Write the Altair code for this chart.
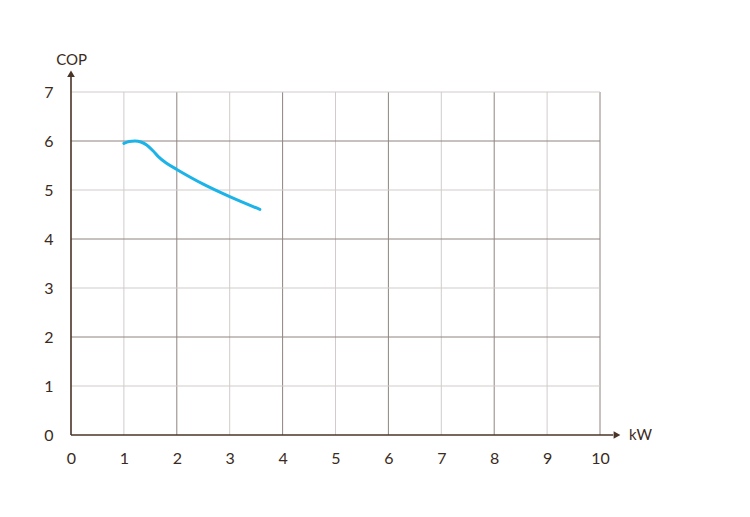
import altair as alt
import pandas as pd

# curve data
kw = [1.0, 1.1, 1.21, 1.32, 1.43, 1.55, 1.65, 1.8, 2.0, 2.5, 3.0, 3.57]
cop = [5.95, 5.99, 6.0, 5.98, 5.92, 5.8, 5.68, 5.55, 5.42, 5.12, 4.865, 4.605]

x_ticks = list(range(0, 11))
y_ticks = list(range(0, 8))

AXIS = "#4a3428"
TEXT = "#3a2a22"
LIGHT = "#d2cbcb"
DARK = "#8e8480"
FONT = "Lato"

curve = pd.DataFrame({"kw": kw, "cop": cop})
xg = pd.DataFrame({"x": x_ticks[1:], "y0": 0, "y1": 7})
xg["even"] = xg["x"] % 2 == 0
yg = pd.DataFrame({"y": y_ticks[1:], "x0": 0, "x1": 10})
yg["even"] = yg["y"] % 2 == 0

xs = alt.Scale(domain=[0, 10], nice=False)
ys = alt.Scale(domain=[0, 7], nice=False)

base_x_axis = alt.Axis(values=x_ticks, labelFont=FONT, labelFontSize=16, labelColor=TEXT,
                       labelPadding=15, labelFlush=False, domain=False, ticks=False,
                       grid=False, title=None)
base_y_axis = alt.Axis(values=y_ticks, labelFont=FONT, labelFontSize=16, labelColor=TEXT,
                       labelPadding=18, labelFlush=False, domain=False, ticks=False,
                       grid=False, title=None)

vgrid = alt.Chart(xg).mark_rule(strokeWidth=1).encode(
    x=alt.X("x:Q", scale=xs, axis=base_x_axis),
    y=alt.Y("y0:Q", scale=ys, axis=base_y_axis),
    y2="y1:Q",
    color=alt.Color("even:N", scale=alt.Scale(domain=[True, False], range=[DARK, LIGHT]), legend=None),
)
hgrid = alt.Chart(yg).mark_rule(strokeWidth=1).encode(
    y=alt.Y("y:Q", scale=ys),
    x=alt.X("x0:Q", scale=xs),
    x2="x1:Q",
    color=alt.Color("even:N", scale=alt.Scale(domain=[True, False], range=[DARK, LIGHT]), legend=None),
)

axes_df = pd.DataFrame({"x0": [0, 0], "x1": [10.25, 0], "y0": [0, 0], "y1": [0, 7.35]})
axes = alt.Chart(axes_df).mark_rule(strokeWidth=1.6, color=AXIS, clip=False).encode(
    x=alt.X("x0:Q", scale=xs), x2="x1:Q",
    y=alt.Y("y0:Q", scale=ys), y2="y1:Q",
)
arrows_df = pd.DataFrame({"x": [10.3, 0], "y": [0, 7.35], "ang": [90, 0]})
arrows = alt.Chart(arrows_df).mark_point(shape="triangle", filled=True, size=60, color=AXIS,
                                         opacity=1, clip=False).encode(
    x=alt.X("x:Q", scale=xs), y=alt.Y("y:Q", scale=ys), angle=alt.Angle("ang:Q", scale=None),
)

titles_df = pd.DataFrame({"x": [10.55, -0.28], "y": [0, 7.66], "t": ["kW", "COP"]})
titles = alt.Chart(titles_df).mark_text(font=FONT, fontSize=15, color=TEXT, align="left",
                                       baseline="middle", clip=False).encode(
    x=alt.X("x:Q", scale=xs), y=alt.Y("y:Q", scale=ys), text="t:N",
)

line = alt.Chart(curve).mark_line(color="#1cb3e8", strokeWidth=3, interpolate="monotone",
                                  strokeCap="round").encode(
    x=alt.X("kw:Q", scale=xs), y=alt.Y("cop:Q", scale=ys),
)

chart = alt.layer(vgrid, hgrid, axes, arrows, titles, line).properties(
    width=529, height=343,
    padding={"left": 63, "top": 84, "right": 120, "bottom": 70},
    autosize=alt.AutoSizeParams(type="none"),
    background="white",
).configure_view(stroke=None)

chart.save("out.html", embed_options={"renderer": "svg", "actions": False})
